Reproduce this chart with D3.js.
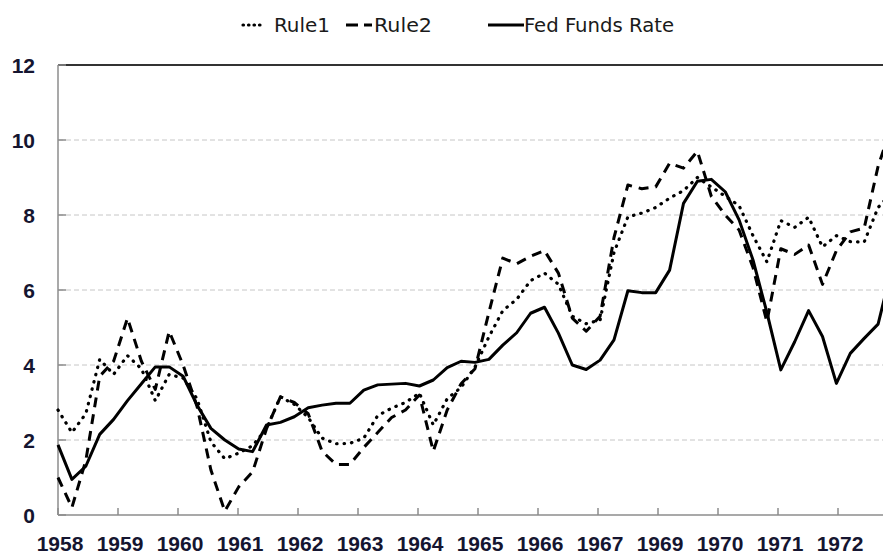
<!DOCTYPE html>
<html>
<head>
<meta charset="utf-8">
<script src="https://cdn.jsdelivr.net/npm/d3@7"></script>
<style>
  body { margin: 0; background: #fff; }
  svg { display: block; }
</style>
</head>
<body>
<div id="chart"></div>
<script>
// quarterly values, 1958Q1 .. 1973Q1
var rule1 = [2.8, 2.2, 2.7, 4.15, 3.75, 4.25, 3.9, 3.05, 3.75, 3.65,
    3.1, 1.95, 1.5, 1.65, 1.85, 2.3, 3.15, 2.95, 2.6, 2.05,
    1.9, 1.91, 2.05, 2.65, 2.85, 3.0, 3.25, 2.4, 3.1, 3.4,
    3.95, 4.75, 5.45, 5.75, 6.25, 6.45, 6.15, 5.3, 5.1, 5.2,
    7.0, 7.95, 8.05, 8.2, 8.45, 8.65, 9.0, 8.75, 8.5, 8.25,
    7.45, 6.75, 7.85, 7.67, 7.94, 7.15, 7.45, 7.29, 7.28, 8.2, 8.6];

var rule2 = [1.0, 0.2, 1.45, 3.7, 4.1, 5.25, 4.1, 3.35, 4.9, 4.0,
    2.9, 1.2, 0.1, 0.75, 1.15, 2.3, 3.15, 3.0, 2.7, 1.7,
    1.35, 1.35, 1.8, 2.2, 2.6, 2.8, 3.2, 1.7, 2.8, 3.5,
    3.9, 5.4, 6.85, 6.7, 6.9, 7.05, 6.45, 5.25, 4.9, 5.3,
    7.4, 8.8, 8.7, 8.75, 9.38, 9.25, 9.7, 8.5, 8.0, 7.6,
    6.6, 5.15, 7.1, 6.95, 7.2, 6.15, 7.05, 7.55, 7.65, 9.3, 10.4];

var fedFunds = [1.87, 0.95, 1.3, 2.15, 2.55, 3.05, 3.5, 3.95, 3.95, 3.7,
    2.93, 2.31, 2.0, 1.76, 1.69, 2.4, 2.47, 2.62, 2.86, 2.93,
    2.98, 2.98, 3.33, 3.47, 3.49, 3.51, 3.44, 3.6, 3.93, 4.1,
    4.07, 4.15, 4.53, 4.86, 5.38, 5.54, 4.85, 4.0, 3.88, 4.13,
    4.67, 5.98, 5.93, 5.93, 6.53, 8.31, 8.9, 8.95, 8.62, 7.87,
    6.8, 5.4, 3.87, 4.62, 5.45, 4.76, 3.51, 4.31, 4.71, 5.09, 6.6];

var yearLabels = ["1958", "1959", "1960", "1961", "1962", "1963", "1964",
    "1965", "1966", "1967", "1969", "1970", "1971", "1972"];

var yTicks = [0, 2, 4, 6, 8, 10, 12];

var width = 883, height = 554;
var plotLeft = 58, plotTop = 65, plotBottom = 515, step = 13.9;

var svg = d3.select("#chart").append("svg")
    .attr("width", width)
    .attr("height", height);

var x = d3.scaleLinear()
    .domain([0, fedFunds.length - 1])
    .range([plotLeft, plotLeft + step * (fedFunds.length - 1)]);

var xLab = d3.scalePoint()
    .domain(yearLabels)
    .range([plotLeft, plotLeft + 60 * (yearLabels.length - 1)]);

var y = d3.scaleLinear()
    .domain([0, 12])
    .range([plotBottom, plotTop]);

var labelFont = "'Liberation Sans', Arial, sans-serif";

// gridlines
svg.selectAll(".grid")
    .data(yTicks.filter(function(d) { return d > 0 && d < 12; }))
    .enter().append("line")
    .attr("x1", plotLeft).attr("x2", width)
    .attr("y1", function(d) { return y(d); })
    .attr("y2", function(d) { return y(d); })
    .style("stroke", "#c6c6c6")
    .style("stroke-width", 1)
    .style("stroke-dasharray", "5,3");

// top border
svg.append("line")
    .attr("x1", plotLeft).attr("x2", width)
    .attr("y1", y(12)).attr("y2", y(12))
    .style("stroke", "#333")
    .style("stroke-width", 2);

// y axis
svg.append("line")
    .attr("x1", plotLeft).attr("x2", plotLeft)
    .attr("y1", y(12)).attr("y2", y(0))
    .style("stroke", "#8c8c8c")
    .style("stroke-width", 1.5);

svg.selectAll(".ytick")
    .data(yTicks)
    .enter().append("line")
    .attr("x1", plotLeft).attr("x2", plotLeft + 8)
    .attr("y1", function(d) { return y(d); })
    .attr("y2", function(d) { return y(d); })
    .style("stroke", "#8c8c8c")
    .style("stroke-width", 1.5);

svg.selectAll(".ylab")
    .data(yTicks)
    .enter().append("text")
    .attr("x", 35)
    .attr("y", function(d) { return y(d); })
    .attr("dy", "0.36em")
    .attr("text-anchor", "end")
    .style("font-family", labelFont)
    .style("font-weight", "bold")
    .style("font-size", "21px")
    .style("fill", "#151530")
    .text(function(d) { return d; });

// x axis
svg.append("line")
    .attr("x1", plotLeft).attr("x2", width)
    .attr("y1", y(0)).attr("y2", y(0))
    .style("stroke", "#8c8c8c")
    .style("stroke-width", 1.5);

svg.selectAll(".xtick")
    .data(yearLabels)
    .enter().append("line")
    .attr("x1", function(d) { return xLab(d); })
    .attr("x2", function(d) { return xLab(d); })
    .attr("y1", y(0) - 7).attr("y2", y(0))
    .style("stroke", "#8c8c8c")
    .style("stroke-width", 1.5);

svg.selectAll(".xlab")
    .data(yearLabels)
    .enter().append("text")
    .attr("x", function(d) { return xLab(d) + 2; })
    .attr("y", 551)
    .attr("text-anchor", "middle")
    .style("font-family", labelFont)
    .style("font-weight", "bold")
    .style("font-size", "21px")
    .style("fill", "#151530")
    .text(function(d) { return d; });

// series
var line = d3.line()
    .x(function(d, i) { return x(i); })
    .y(function(d) { return y(d); });

var series = [
    { name: "Rule1", values: rule1, dash: "0.5,7", cap: "round", w: 3.2 },
    { name: "Rule2", values: rule2, dash: "10,7", cap: "butt", w: 3 },
    { name: "Fed Funds Rate", values: fedFunds, dash: null, cap: "butt", w: 3 }
];

svg.selectAll(".series")
    .data(series)
    .enter().append("path")
    .attr("d", function(d) { return line(d.values); })
    .style("fill", "none")
    .style("stroke", "#000")
    .style("stroke-width", function(d) { return d.w; })
    .style("stroke-linejoin", "round")
    .style("stroke-linecap", function(d) { return d.cap; })
    .style("stroke-dasharray", function(d) { return d.dash; });

// legend
var legendItems = [
    { s: series[0], x1: 243, x2: 262, dash: "0.5,5", tx: 274, tw: 56 },
    { s: series[1], x1: 346, x2: 372, dash: "12,6", tx: 374, tw: 58 },
    { s: series[2], x1: 488, x2: 524, dash: null, tx: 524, tw: 150 }
];

var legend = svg.append("g");

legend.selectAll("line")
    .data(legendItems)
    .enter().append("line")
    .attr("x1", function(d) { return d.x1; })
    .attr("x2", function(d) { return d.x2; })
    .attr("y1", 25).attr("y2", 25)
    .style("stroke", "#000")
    .style("stroke-width", function(d) { return d.s.w; })
    .style("stroke-linecap", function(d) { return d.s.cap; })
    .style("stroke-dasharray", function(d) { return d.dash; });

legend.selectAll("text")
    .data(legendItems)
    .enter().append("text")
    .attr("x", function(d) { return d.tx; })
    .attr("y", 32)
    .attr("textLength", function(d) { return d.tw; })
    .attr("lengthAdjust", "spacingAndGlyphs")
    .style("font-family", "'Liberation Sans Narrow', 'DejaVu Sans Condensed', sans-serif")
    .style("font-size", "19px")
    .style("fill", "#1a1a1a")
    .text(function(d) { return d.s.name; });
</script>
</body>
</html>
